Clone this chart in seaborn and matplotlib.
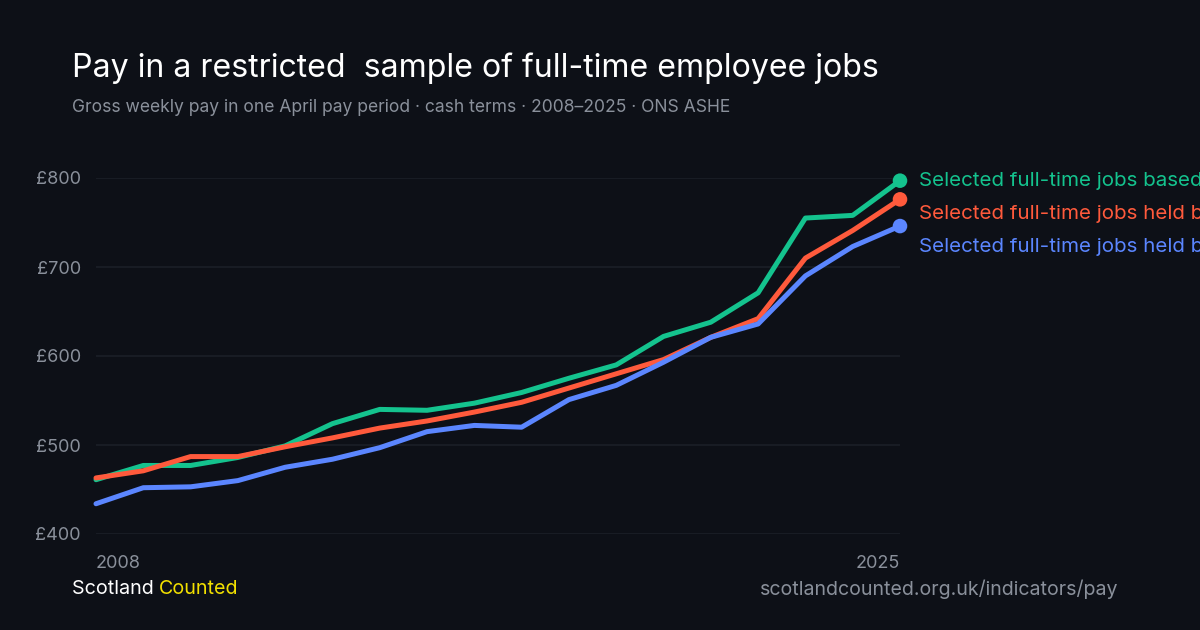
import matplotlib.pyplot as plt
import pandas as pd
import seaborn as sns

# Данные: недельная зарплата (£), ASHE, апрель каждого года
years = list(range(2008, 2026))
based_in_scotland = [461, 477, 477, 486, 499, 524, 540, 539, 547, 559, 575, 590, 622, 638, 671, 755, 758, 797]
held_by_residents = [463, 471, 487, 487, 498, 508, 519, 527, 537, 548, 564, 580, 596, 621, 642, 710, 741, 776]
held_by_third = [434, 452, 453, 460, 475, 484, 497, 515, 522, 520, 551, 567, 593, 621, 636, 690, 723, 746]

series_names = [
    "Selected full-time jobs based in Scotland",
    "Selected full-time jobs held by Scottish residents",
    "Selected full-time jobs held by women",
]
colors = ["#14c38e", "#ff5a3c", "#5b86ff"]
y_ticks = [400, 500, 600, 700, 800]

title = "Pay in a restricted  sample of full-time employee jobs"
subtitle = "Gross weekly pay in one April pay period · cash terms · 2008–2025 · ONS ASHE"

df = pd.DataFrame({
    "year": years * 3,
    "pay": based_in_scotland + held_by_residents + held_by_third,
    "series": [n for n in series_names for _ in years],
})

bg = "#0d1017"
grey = "#8a909b"

sns.set_theme(style="dark")
plt.rcParams["font.family"] = ["Inter", "DejaVu Sans"]

fig = plt.figure(figsize=(12, 6.3), dpi=100, facecolor=bg)
ax = fig.add_axes([96 / 1200, 1 - 534 / 630, 804 / 1200, 356 / 630], facecolor=bg)

sns.lineplot(data=df, x="year", y="pay", hue="series", hue_order=series_names,
             palette=colors, lw=3.6, ax=ax, legend=False, clip_on=False)

# точки на последнем годе
last = df[df["year"] == years[-1]]
sns.scatterplot(data=last, x="year", y="pay", hue="series", hue_order=series_names,
                palette=colors, s=110, linewidth=0, ax=ax, legend=False, clip_on=False, zorder=5)

# подписи справа, раздвинутые по вертикали
gap = 37.5
prev = None
for name, c in zip(series_names, colors):
    v = last.loc[last["series"] == name, "pay"].iloc[0]
    ylab = v if prev is None else min(v, prev - gap)
    prev = ylab
    ax.annotate(name, xy=(years[-1], ylab), xytext=(13.5, 0), textcoords="offset points",
                va="center", ha="left", color=c, fontsize=14.8, annotation_clip=False)

ax.set_xlim(years[0], years[-1])
ax.set_ylim(400, 800)
ax.set_yticks(y_ticks)
ax.set_yticklabels([f"£{t}" for t in y_ticks])
ax.set_xticks([years[0], years[-1]])
ax.set_xticklabels([str(years[0]), str(years[-1])])
xl = ax.get_xticklabels()
xl[0].set_ha("left")
xl[1].set_ha("right")
ax.tick_params(axis="y", length=0, pad=11, labelsize=13, labelcolor=grey)
ax.tick_params(axis="x", length=0, pad=15, labelsize=13, labelcolor=grey)
ax.set_xlabel("")
ax.set_ylabel("")
ax.grid(False)
ax.yaxis.grid(True, color="#1b1f27", lw=1.2)
for s in ax.spines.values():
    s.set_visible(False)

fig.text(72 / 1200, 1 - 68 / 630, title, color="white", fontsize=23.1, va="center", ha="left")
fig.text(72 / 1200, 1 - 107 / 630, subtitle, color=grey, fontsize=12.6, va="center", ha="left")

# подвал
t1 = fig.text(72 / 1200, 1 - 589 / 630, "Scotland ", color="white", fontsize=14.2, va="center", ha="left")
fig.canvas.draw()
bb = t1.get_window_extent()
fig.text(bb.x1 / 1200, 1 - 589 / 630, "Counted", color="#f2e000", fontsize=14.2, va="center", ha="left")
fig.text(1118 / 1200, 1 - 589 / 630, "scotlandcounted.org.uk/indicators/pay", color=grey,
         fontsize=14.1, va="center", ha="right")

plt.savefig("out.png", dpi=100, facecolor=bg)
